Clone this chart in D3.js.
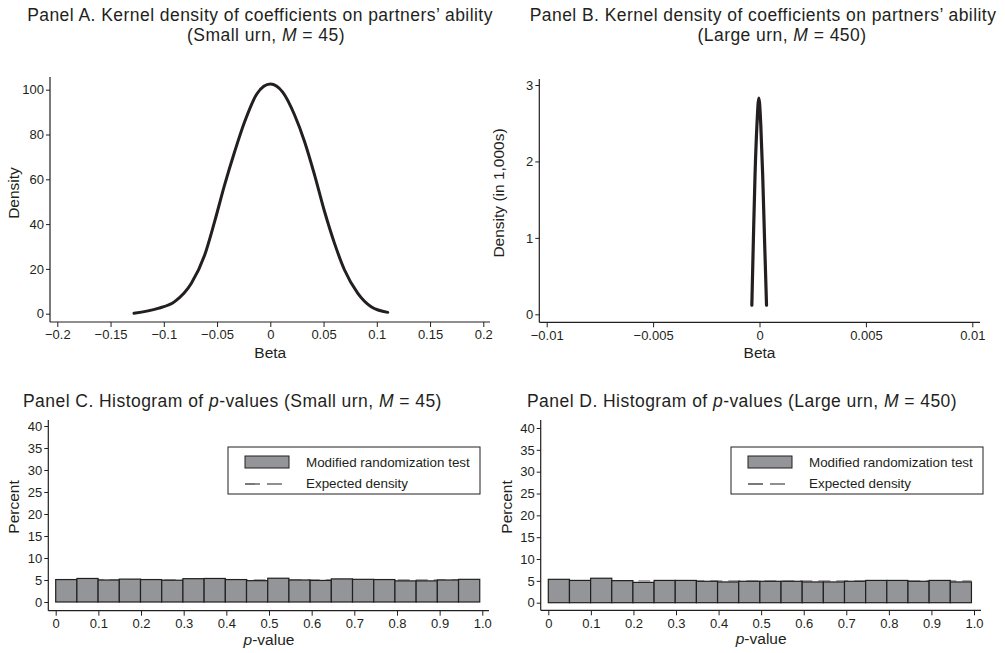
<!DOCTYPE html>
<html>
<head>
<meta charset="utf-8">
<script src="https://cdn.jsdelivr.net/npm/d3@7"></script>
<style>
  body { margin: 0; background: #fff; }
  svg { font-family: "Liberation Sans", Arial, sans-serif; }
  .tick text { font-size: 13px; fill: #231f20; }
  .tick line { stroke: #231f20; stroke-width: 1; }
  .title { letter-spacing: 0.45px; }
</style>
</head>
<body>
<div id="chart"></div>
<script>
// Panel A: kernel density, small urn
const betaA = [-0.128, -0.1054, -0.0898, -0.0741, -0.0616, -0.0523, -0.0429, -0.0335, -0.0241, -0.0125, 0,
               0.0118, 0.0228, 0.0322, 0.0416, 0.0510, 0.0603, 0.0697, 0.0822, 0.0947, 0.1103];
const densA = [0.2, 2.4, 5.4, 13.6, 26.2, 41.1, 57.5, 72.3, 85.7, 98.2, 102.5,
               98.8, 88.7, 76.8, 61.9, 45.5, 31.4, 19.5, 9.1, 3.1, 0.6];

// Panel B: kernel density, large urn (density in 1,000s)
const betaB = [-0.00036, -0.00029, -0.00021, -0.00012, -0.00003, 0.00006, 0.00015, 0.00024, 0.00033];
const densB = [0.12, 0.95, 1.82, 2.48, 2.83, 2.48, 1.82, 0.95, 0.12];

// Panels C and D: histogram of p-values (percent per bin)
const percentC = [5.1, 5.35, 5.0, 5.2, 5.1, 4.95, 5.3, 5.35, 5.1, 4.85,
                  5.4, 5.0, 4.9, 5.25, 5.15, 5.1, 4.8, 4.8, 5.0, 5.15];
const percentD = [5.35, 5.1, 5.6, 5.05, 4.65, 5.1, 5.1, 4.9, 4.75, 4.9,
                  4.9, 4.9, 4.75, 4.75, 4.9, 5.1, 5.1, 4.9, 5.1, 4.75];
const expectedPercent = 5;
const binWidth = 0.0497;

// tick values / labels
const ticksA = [-0.2, -0.15, -0.1, -0.05, 0, 0.05, 0.1, 0.15, 0.2];
const ticksAy = [0, 20, 40, 60, 80, 100];
const ticksB = [-0.01, -0.005, 0, 0.005, 0.01];
const ticksBy = [0, 1, 2, 3];
const ticksP = [0, 0.1, 0.2, 0.3, 0.4, 0.5, 0.6, 0.7, 0.8, 0.9, 1.0];
const ticksPy = [0, 5, 10, 15, 20, 25, 30, 35, 40];

const ink = "#231f20";
const titleSize = 17.5;
const axisTitleSize = 15.5;

let svg = d3.select("#chart")
            .append("svg")
            .attr("width", 1005)
            .attr("height", 653);

// axes with a plain line for the domain, like Stata draws them
function drawAxes(x, y, box, xTicks, xFmt, yTicks, yFmt){
    svg.append("g")
        .attr("transform", `translate(0,${box.axisY})`)
        .call(d3.axisBottom(x).tickValues(xTicks).tickFormat(xFmt).tickSize(5).tickPadding(3))
        .call(g => g.select(".domain").remove());
    svg.append("g")
        .attr("transform", `translate(${box.axisX},0)`)
        .call(d3.axisLeft(y).tickValues(yTicks).tickFormat(yFmt).tickSize(4).tickPadding(2))
        .call(g => g.select(".domain").remove());

    svg.append("line")
        .attr("x1", box.axisX).attr("x2", box.right)
        .attr("y1", box.axisY).attr("y2", box.axisY)
        .attr("stroke", ink).attr("stroke-width", 1.2);
    svg.append("line")
        .attr("x1", box.axisX).attr("x2", box.axisX)
        .attr("y1", box.top).attr("y2", box.axisY)
        .attr("stroke", ink).attr("stroke-width", 1.2);
}

function yLabel(cx, cy, parts){
    let t = svg.append("text")
        .attr("transform", `translate(${cx},${cy}) rotate(-90)`)
        .attr("text-anchor", "middle")
        .attr("dominant-baseline", "central")
        .attr("font-size", axisTitleSize)
        .attr("fill", ink);
    parts.forEach(p => t.append("tspan").attr("font-style", p[1] ? "italic" : null).text(p[0]));
}

function label(x, y, parts, size, anchor, cls){
    let t = svg.append("text")
        .attr("class", cls || null)
        .attr("x", x).attr("y", y)
        .attr("text-anchor", anchor)
        .attr("font-size", size)
        .attr("fill", ink);
    parts.forEach(p => t.append("tspan").attr("font-style", p[1] ? "italic" : null).text(p[0]));
}

function densityPanel(xs, ys, box, xDomain, yDomain, xTicks, xLabels, yTicks, yTitle, yTitleX, lw, curve){
    let x = d3.scaleLinear().domain(xDomain).range([box.x0, box.x1]);
    let y = d3.scaleLinear().domain(yDomain).range([box.y0, box.y1]);

    drawAxes(x, y, box, xTicks, (d, i) => xLabels[i], yTicks, d3.format("d"));

    let pts = xs.map((d, i) => [d, ys[i]]);
    svg.append("path")
        .attr("d", d3.line().x(d => x(d[0])).y(d => y(d[1])).curve(curve)(pts))
        .attr("fill", "none")
        .attr("stroke", ink)
        .attr("stroke-width", lw)
        .attr("stroke-linecap", "round")
        .attr("stroke-linejoin", "round");

    label((box.x0 + box.x1) / 2, box.axisY + 36, [["Beta"]], axisTitleSize, "middle");
    yLabel(yTitleX, 193, [[yTitle]]);
}

function histPanel(values, box, legendX){
    let x = d3.scaleLinear().domain([0, 1]).range([box.x0, box.x1]);
    let y = d3.scaleLinear().domain([0, 40]).range([box.y0, box.y1]);

    drawAxes(x, y, box, ticksP, d => d === 0 ? "0" : d3.format(".1f")(d), ticksPy, d3.format("d"));

    // expected density behind the bars
    svg.append("line")
        .attr("x1", x(0)).attr("x2", x(values.length * binWidth))
        .attr("y1", y(expectedPercent)).attr("y2", y(expectedPercent))
        .attr("stroke", "#8a8a8a").attr("stroke-width", 1.3)
        .attr("stroke-dasharray", "12,6");

    svg.append("g").selectAll("rect")
        .data(values)
        .enter()
        .append("rect")
        .attr("x", (d, i) => x(i * binWidth))
        .attr("y", d => y(d))
        .attr("width", x(binWidth) - x(0))
        .attr("height", d => y(0) - y(d))
        .attr("fill", "#939598")
        .attr("stroke", ink)
        .attr("stroke-width", 1.2);

    label(x(0.5), box.axisY + 34, [["p", true], ["-value"]], axisTitleSize, "middle");
    yLabel(box.axisX - 35, 507, [["Percent"]]);

    // legend
    let lg = svg.append("g").attr("transform", `translate(${legendX},447)`);
    lg.append("rect").attr("width", 252).attr("height", 47)
        .attr("fill", "#fff").attr("stroke", ink).attr("stroke-width", 1);
    lg.append("rect").attr("x", 17).attr("y", 9).attr("width", 44).attr("height", 12)
        .attr("fill", "#939598").attr("stroke", ink).attr("stroke-width", 1);
    lg.append("line").attr("x1", 17).attr("x2", 61).attr("y1", 37).attr("y2", 37)
        .attr("stroke", ink).attr("stroke-width", 1.2).attr("stroke-dasharray", "15,7");
    lg.append("text").attr("x", 78).attr("y", 19.5).attr("font-size", 13.4).attr("fill", ink)
        .text("Modified randomization test");
    lg.append("text").attr("x", 78).attr("y", 40.5).attr("font-size", 13.4).attr("fill", ink)
        .text("Expected density");
}

// titles
label(260, 21, [["Panel A. Kernel density of coefficients on partners\u2019 ability"]], titleSize, "middle", "title");
label(266, 40.5, [["(Small urn, "], ["M", true], [" = 45)"]], titleSize, "middle", "title");
label(763, 21, [["Panel B. Kernel density of coefficients on partners\u2019 ability"]], titleSize, "middle", "title");
label(782, 40.5, [["(Large urn, "], ["M", true], [" = 450)"]], titleSize, "middle", "title");
label(23, 407, [["Panel C. Histogram of "], ["p", true], ["-values (Small urn, "], ["M", true], [" = 45)"]], titleSize, "start", "title");
label(527, 407, [["Panel D. Histogram of "], ["p", true], ["-values (Large urn, "], ["M", true], [" = 450)"]], titleSize, "start", "title");

densityPanel(betaA, densA,
    {x0: 57.3, x1: 483.3, y0: 313.7, y1: 89.7, axisX: 50, axisY: 322, right: 490, top: 77},
    [-0.2, 0.2], [0, 100], ticksA,
    ["\u22120.2", "\u22120.15", "\u22120.1", "\u22120.05", "0", "0.05", "0.1", "0.15", "0.2"],
    ticksAy, "Density", 13, 3, d3.curveMonotoneX);

densityPanel(betaB, densB,
    {x0: 546.7, x1: 972.3, y0: 314.3, y1: 85, axisX: 539.3, axisY: 322.3, right: 980, top: 79},
    [-0.01, 0.01], [0, 3], ticksB,
    ["\u22120.01", "\u22120.005", "0", "0.005", "0.01"],
    ticksBy, "Density (in 1,000s)", 498, 3.2, d3.curveMonotoneX);

histPanel(percentC, {x0: 55.7, x1: 482.3, y0: 602, y1: 426, axisX: 48.3, axisY: 610.7, right: 489, top: 420}, 228);
histPanel(percentD, {x0: 548.3, x1: 974, y0: 602.7, y1: 428, axisX: 540.7, axisY: 610.3, right: 981, top: 420}, 731);
</script>
</body>
</html>
